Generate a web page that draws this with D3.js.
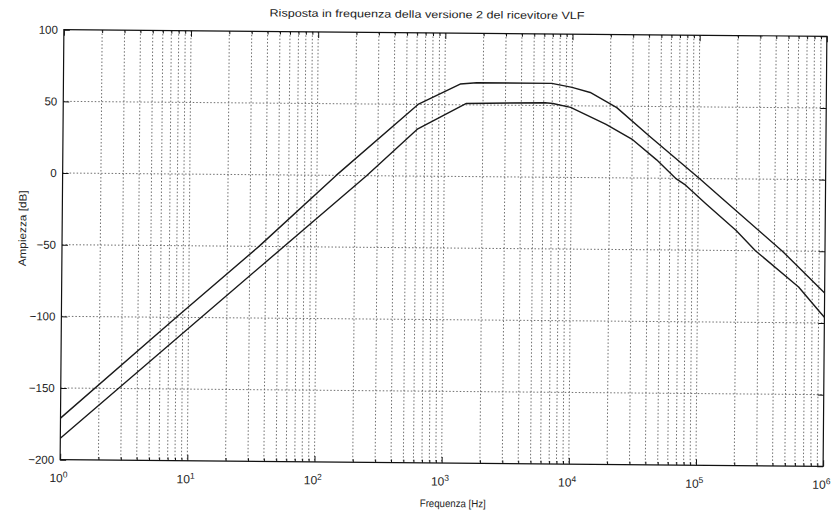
<!DOCTYPE html>
<html>
<head>
<meta charset="utf-8">
<script src="https://cdn.jsdelivr.net/npm/d3@7"></script>
<style>
  body { margin: 0; background: #fff; }
  svg { display: block; }
  text { font-family: "Liberation Sans", Arial, Helvetica, sans-serif; fill: #222; }
</style>
</head>
<body>
<svg id="chart" width="838" height="515"></svg>
<script>
// Labels
const titleText = "Risposta in frequenza della versione 2 del ricevitore VLF";
const xLabelText = "Frequenza [Hz]";
const yLabelText = "Ampiezza [dB]";

// Axis ticks
const yTicks = [100, 50, 0, -50, -100, -150, -200];
const xDecades = [0, 1, 2, 3, 4, 5, 6];

// Upper trace: frequency [Hz] and magnitude [dB]
const upperFreq = [1, 8.02, 35.4, 141.6, 616.6, 1318, 1778, 6918, 10000, 13900, 22540, 41200, 101800, 154900, 460300, 1000000];
const upperDb   = [-171, -100, -50, 0, 50, 64.5, 65.5, 65.5, 62.8, 59.4, 49, 29, 0, -14, -50, -79];

// Lower trace: frequency [Hz] and magnitude [dB]
const lowerFreq = [1, 245.5, 616.6, 1479, 6166, 7079, 9772, 18620, 30200, 46770, 66070, 79430, 114800, 199500, 283800, 623700, 912000, 1000000];
const lowerDb   = [-185, 0, 33, 51, 52, 51.5, 48.9, 37.2, 26.7, 12.8, 0, -4.7, -17.5, -36, -50, -75, -92, -96];

const W = 838, H = 515;
const box = { left: 62, right: 825, top: 33, bottom: 463 };

const x = d3.scaleLog().domain([1, 1e6]).range([box.left, box.right]);
const y = d3.scaleLinear().domain([-200, 100]).range([box.bottom, box.top]);

const svg = d3.select("#chart");
svg.append("rect").attr("width", W).attr("height", H).attr("fill", "#fff");

// the printed page sits slightly skewed
const g = svg.append("g").attr("transform", "rotate(0.5, 443.5, 248)");

const allXTicks = x.ticks();              // 1..9 x 10^k for every decade
const majorX = xDecades.map(d => Math.pow(10, d));
const minorX = allXTicks.filter(v => !majorX.includes(v));

// Grid
const grid = g.append("g")
  .attr("stroke", "#3a3a3a")
  .attr("stroke-width", 0.9)
  .attr("stroke-dasharray", "1.5,2")
  .attr("opacity", 0.8);

grid.selectAll("line.v")
  .data(allXTicks.filter(v => v > 1 && v < 1e6))
  .join("line")
  .attr("class", "v")
  .attr("x1", d => x(d)).attr("x2", d => x(d))
  .attr("y1", box.top).attr("y2", box.bottom);

grid.selectAll("line.h")
  .data(yTicks.filter(v => v > -200 && v < 100))
  .join("line")
  .attr("class", "h")
  .attr("x1", box.left).attr("x2", box.right)
  .attr("y1", d => y(d)).attr("y2", d => y(d));

// Axes (ticks pointing inward)
const styleAxis = sel => {
  sel.select(".domain").remove();
  sel.selectAll(".tick line").attr("stroke", "#111").attr("stroke-width", 1);
};

g.append("g")
  .attr("transform", `translate(${box.left},0)`)
  .call(d3.axisLeft(y).tickValues(yTicks).tickSize(-6).tickPadding(6).tickFormat(d3.format("d")))
  .call(styleAxis)
  .call(s => s.selectAll(".tick text")
    .attr("font-size", 11.5)
    .attr("font-family", "'Liberation Sans', Arial, sans-serif")
    .attr("fill", "#222"));

g.append("g")
  .attr("transform", `translate(${box.right},0)`)
  .call(d3.axisRight(y).tickValues(yTicks).tickSize(-6).tickFormat(""))
  .call(styleAxis);

g.append("g")
  .attr("transform", `translate(0,${box.bottom})`)
  .call(d3.axisBottom(x).tickValues(minorX).tickSize(-3).tickFormat(""))
  .call(styleAxis);

g.append("g")
  .attr("transform", `translate(0,${box.top})`)
  .call(d3.axisTop(x).tickValues(minorX).tickSize(-3).tickFormat(""))
  .call(styleAxis);

g.append("g")
  .attr("transform", `translate(0,${box.top})`)
  .call(d3.axisTop(x).tickValues(majorX).tickSize(-6).tickFormat(""))
  .call(styleAxis);

const bottomMajor = g.append("g")
  .attr("transform", `translate(0,${box.bottom})`)
  .call(d3.axisBottom(x).tickValues(majorX).tickSize(-6).tickPadding(14).tickFormat(""))
  .call(styleAxis);

// Decade labels 10^k
bottomMajor.selectAll(".tick").each(function(d) {
  const t = d3.select(this).select("text");
  t.attr("font-size", 12)
   .attr("font-family", "'Liberation Sans', Arial, sans-serif")
   .attr("fill", "#222")
   .attr("text-anchor", "middle")
   .attr("dy", "0.71em")
   .attr("x", -2);
  t.text(null);
  t.append("tspan").text("10");
  t.append("tspan").attr("font-size", 8.5).attr("dy", "-0.55em").text(Math.round(Math.log10(d)));
});

// Plot frame
g.append("rect")
  .attr("x", box.left).attr("y", box.top)
  .attr("width", box.right - box.left).attr("height", box.bottom - box.top)
  .attr("fill", "none").attr("stroke", "#111").attr("stroke-width", 1.2);

// Traces
const line = d3.line().x(d => x(d[0])).y(d => y(d[1]));
const traces = [d3.zip(upperFreq, upperDb), d3.zip(lowerFreq, lowerDb)];
g.selectAll("path.trace")
  .data(traces)
  .join("path")
  .attr("class", "trace")
  .attr("d", line)
  .attr("fill", "none")
  .attr("stroke", "#1a1a1a")
  .attr("stroke-width", 1.4)
  .attr("stroke-linejoin", "round");

// Title and axis labels
g.append("text")
  .attr("x", 425).attr("y", 18)
  .attr("text-anchor", "middle")
  .attr("font-size", 10.5)
  .attr("textLength", 315).attr("lengthAdjust", "spacingAndGlyphs")
  .text(titleText);

g.append("text")
  .attr("x", 455).attr("y", 507)
  .attr("text-anchor", "middle")
  .attr("font-size", 10.5)
  .attr("textLength", 66).attr("lengthAdjust", "spacingAndGlyphs")
  .text(xLabelText);

g.append("text")
  .attr("transform", "translate(26,232) rotate(-90)")
  .attr("text-anchor", "middle")
  .attr("font-size", 10.5)
  .attr("textLength", 76).attr("lengthAdjust", "spacingAndGlyphs")
  .text(yLabelText);
</script>
</body>
</html>
